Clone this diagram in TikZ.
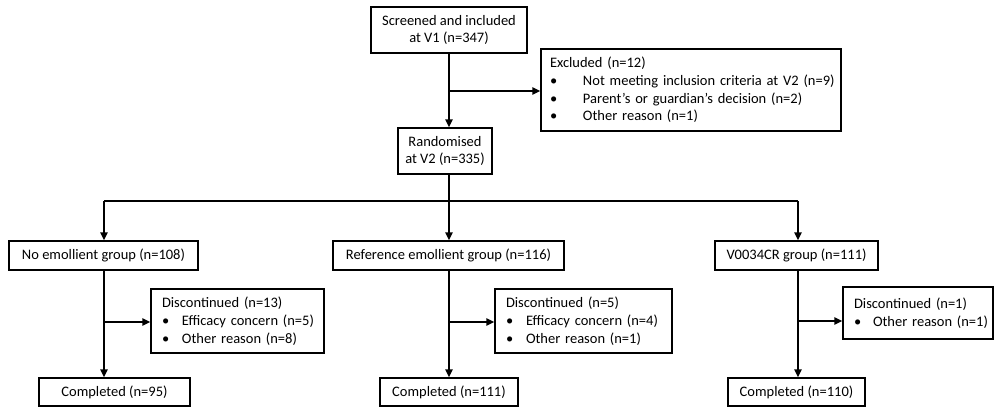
\documentclass[tikz,border=0pt]{standalone}
\usepackage{fontspec}
\setmainfont{Carlito}
\usetikzlibrary{arrows.meta,calc}
\tikzset{
  box/.style={draw, line width=1.5pt, inner sep=0pt, font=\fontsize{14.5}{17.7}\selectfont},
  cbox/.style={box, align=center},
  lbox/.style={box, align=left, inner xsep=10pt},
  conn/.style={line width=1.5pt},
  arr/.style={conn, -{Triangle[length=8pt,width=7.5pt]}}
}
\newcommand{\bl}[2]{\mbox{\makebox[#1][l]{\textbullet}#2}}
\begin{document}
\begin{tikzpicture}[x=1pt,y=-1pt]
\useasboundingbox (0,0) rectangle (995,410);
% top
\node[cbox, minimum width=156pt, minimum height=46pt] (scr) at (449,30) {Screened and included\\at V1 (n=347)};
\node[lbox, text width=282pt, minimum height=82pt, inner xsep=9pt] (exc) at (691,90)
  {Excluded (n=12)\\\bl{33pt}{Not meeting inclusion criteria at V2 (n=9)}\\\bl{33pt}{Parent's or guardian's decision (n=2)}\\\bl{33pt}{Other reason (n=1)}};
\node[cbox, minimum width=94pt, minimum height=46pt] (rnd) at (445,151) {Randomised\\at V2 (n=335)};
% groups
\node[cbox, minimum width=189pt, minimum height=29pt] (g1) at (103.5,255.5) {No emollient group (n=108)};
\node[cbox, minimum width=231pt, minimum height=29pt] (g2) at (448.5,255.5) {Reference emollient group (n=116)};
\node[cbox, minimum width=163pt, minimum height=29pt] (g3) at (796.5,255.5) {V0034CR group (n=111)};
% discontinued
\node[lbox, text width=151pt, minimum height=64pt, inner xsep=11pt] (d1) at (237.5,321)
  {Discontinued (n=13)\\\bl{20pt}{Efficacy concern (n=5)}\\\bl{20pt}{Other reason (n=8)}};
\node[lbox, text width=155pt, minimum height=64pt, inner xsep=11pt] (d2) at (583.5,321)
  {Discontinued (n=5)\\\bl{20pt}{Efficacy concern (n=4)}\\\bl{20pt}{Other reason (n=1)}};
\node[lbox, text width=128pt, minimum height=52pt, inner xsep=11pt] (d3) at (918,313)
  {Discontinued (n=1)\\\bl{19pt}{Other reason (n=1)}};
% completed
\node[cbox, minimum width=151pt, minimum height=28pt] (c1) at (114.5,392) {Completed (n=95)};
\node[cbox, minimum width=138pt, minimum height=28pt] (c2) at (449,392) {Completed (n=111)};
\node[cbox, minimum width=137pt, minimum height=28pt] (c3) at (796.5,392) {Completed (n=110)};
% connectors top
\coordinate (t1) at (449,53);
\draw[arr] (t1) -- (t1 |- rnd.north);
\coordinate (be) at (449,91);
\draw[arr] (be) -- (be -| exc.west);
\coordinate (r1) at (449,174);
\coordinate (sp) at (449,201);
\draw[conn] (r1) -- (sp);
\coordinate (s1) at (104,201);
\coordinate (s2) at (449,201);
\coordinate (s3) at (798,201);
\draw[conn] (s1) -- (s3);
\draw[arr] (s1) -- (s1 |- g1.north);
\draw[arr] (s2) -- (s2 |- g2.north);
\draw[arr] (s3) -- (s3 |- g3.north);
% group verticals
\coordinate (v1) at (s1 |- g1.south);
\coordinate (v2) at (s2 |- g2.south);
\coordinate (v3) at (s3 |- g3.south);
\draw[arr] (v1) -- (v1 |- c1.north);
\draw[arr] (v2) -- (v2 |- c2.north);
\draw[arr] (v3) -- (v3 |- c3.north);
\coordinate (b1) at (104,322);
\coordinate (b2) at (449,322);
\coordinate (b3) at (798,321);
\draw[arr] (b1) -- (b1 -| d1.west);
\draw[arr] (b2) -- (b2 -| d2.west);
\draw[arr] (b3) -- (b3 -| d3.west);
\end{tikzpicture}
\end{document}
